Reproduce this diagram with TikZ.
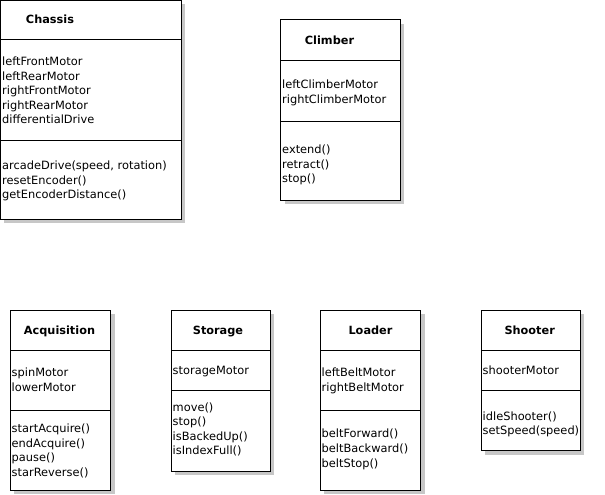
\documentclass[tikz,border=0pt]{standalone}
\usepackage{fontspec}
\setmainfont{DejaVu Sans}
\usepackage{tikz}
\usetikzlibrary{calc}
\tikzset{>=latex}
\tikzset{
    classbox/.style={draw, line width=1pt, fill=white},
    boxshadow/.style={fill=black!22},
    classline/.style={line width=1pt},
    classname/.style={anchor=base, inner sep=0pt, font=\fontsize{11.3}{14}\selectfont\bfseries},
    members/.style={anchor=north west, inner sep=0pt, align=left, font=\fontsize{11.4}{14.6}\selectfont}
}

\begin{document}
\begin{tikzpicture}[x=1pt,y=-1pt]
    \useasboundingbox (0,0) rectangle (605,495);

    % Chassis
    \fill[boxshadow] (4,4) rectangle (185,223);
    \draw[classbox] (0.5,0.5) rectangle (181,219);
    \draw[classline] (0.5,40) -- (181,40);
    \draw[classline] (0.5,140) -- (181,140);
    \node[classname] (chassis) at (50,24) {Chassis};
    \node[members] (chassisattr) at (2,56.6) {leftFrontMotor\\leftRearMotor\\rightFrontMotor\\rightRearMotor\\differentialDrive};
    \node[members] (chassisops) at (2,160.8) {arcadeDrive(speed, rotation)\\resetEncoder()\\getEncoderDistance()};

    % Climber
    \fill[boxshadow] (284.5,24) rectangle (404,204);
    \draw[classbox] (280.5,20) rectangle (400,200);
    \draw[classline] (280.5,60.7) -- (400,60.7);
    \draw[classline] (280.5,121) -- (400,121);
    \node[classname] (climber) at (329.5,45) {Climber};
    \node[members] (climberattr) at (282,79.6) {leftClimberMotor\\rightClimberMotor};
    \node[members] (climberops) at (282,144.6) {extend()\\retract()\\stop()};

    % Acquisition
    \fill[boxshadow] (14,314) rectangle (114.7,494);
    \draw[classbox] (10,310) rectangle (110.7,490);
    \draw[classline] (10,350.7) -- (110.7,350.7);
    \draw[classline] (10,410.7) -- (110.7,410.7);
    \node[classname] (acquisition) at (59.5,334) {Acquisition};
    \node[members] (acquisitionattr) at (11.5,367.8) {spinMotor\\lowerMotor};
    \node[members] (acquisitionops) at (11.5,423.8) {startAcquire()\\endAcquire()\\pause()\\starReverse()};

    % Storage
    \fill[boxshadow] (175,314) rectangle (274,475);
    \draw[classbox] (171,310) rectangle (270,471);
    \draw[classline] (171,350.7) -- (270,350.7);
    \draw[classline] (171,390) -- (270,390);
    \node[classname] (storage) at (218,334) {Storage};
    \node[members] (storageattr) at (172.5,365.8) {storageMotor};
    \node[members] (storageops) at (172.5,402.3) {move()\\stop()\\isBackedUp()\\isIndexFull()};

    % Loader
    \fill[boxshadow] (324,314) rectangle (424.7,494);
    \draw[classbox] (320,310) rectangle (420.7,490);
    \draw[classline] (320,350.7) -- (420.7,350.7);
    \draw[classline] (320,410.7) -- (420.7,410.7);
    \node[classname] (loader) at (370.5,334) {Loader};
    \node[members] (loaderattr) at (321.5,367.8) {leftBeltMotor\\rightBeltMotor};
    \node[members] (loaderops) at (321.5,429) {beltForward()\\beltBackward()\\beltStop()};

    % Shooter
    \fill[boxshadow] (485,314) rectangle (584,454.7);
    \draw[classbox] (481,310) rectangle (580,450.7);
    \draw[classline] (481,350.7) -- (580,350.7);
    \draw[classline] (481,390) -- (580,390);
    \node[classname] (shooter) at (529.7,334) {Shooter};
    \node[members] (shooterattr) at (482.5,365.8) {shooterMotor};
    \node[members] (shooterops) at (482.5,411.3) {idleShooter()\\setSpeed(speed)};
\end{tikzpicture}
\end{document}
